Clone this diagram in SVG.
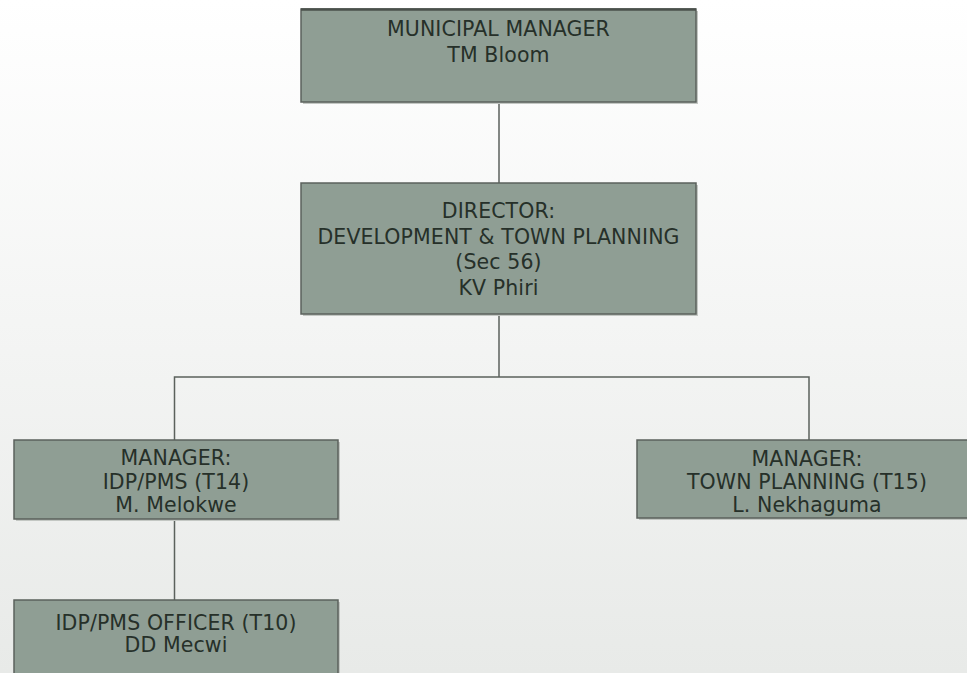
<svg xmlns="http://www.w3.org/2000/svg" width="967" height="673" viewBox="0 0 967 673">
<defs>
<linearGradient id="bg" x1="0" y1="0" x2="0" y2="1">
<stop offset="0" stop-color="#ffffff"/>
<stop offset="1" stop-color="#e8eae8"/>
</linearGradient>
</defs>
<style>
.box{fill:#8f9e94;stroke:#5b615c;stroke-width:1.5}
.shadow{fill:#c3c7c3}
.t{font-family:"DejaVu Sans",Verdana,sans-serif;font-size:20.5px;fill:#263029;text-anchor:middle;letter-spacing:0.1px}
.c{fill:none;stroke:#5b615c;stroke-width:1.5}
</style>
<rect x="0" y="0" width="967" height="673" fill="url(#bg)"/>
<g id="connectors">
<line class="c" x1="499" y1="102" x2="499" y2="183"/>
<line class="c" x1="499" y1="314" x2="499" y2="377"/>
<polyline class="c" points="174.5,440 174.5,377 809,377 809,440"/>
<line class="c" x1="174.5" y1="519" x2="174.5" y2="600"/>
</g>
<g id="municipal-manager">
<rect class="shadow" x="303" y="11" width="395" height="93"/>
<rect class="box" x="301" y="9" width="395" height="93"/>
<path d="M301,9.5 H696" stroke="#4a504b" stroke-width="2.5"/>
<text class="t" x="498.5" y="36">MUNICIPAL MANAGER</text>
<text class="t" x="498.5" y="62">TM Bloom</text>
</g>
<g id="director">
<rect class="shadow" x="303" y="185" width="395" height="131"/>
<rect class="box" x="301" y="183" width="395" height="131"/>
<text class="t" x="498.5" y="218">DIRECTOR:</text>
<text class="t" x="498.5" y="243.5">DEVELOPMENT &amp; TOWN PLANNING</text>
<text class="t" x="498.5" y="269">(Sec 56)</text>
<text class="t" x="498.5" y="294.5">KV Phiri</text>
</g>
<g id="manager-idp">
<rect class="shadow" x="16" y="442" width="324" height="79"/>
<rect class="box" x="14" y="440" width="324" height="79"/>
<text class="t" x="176" y="464.5">MANAGER:</text>
<text class="t" x="176" y="489">IDP/PMS (T14)</text>
<text class="t" x="176" y="511.5">M. Melokwe</text>
</g>
<g id="manager-town-planning">
<rect class="shadow" x="639" y="442" width="340" height="78"/>
<rect class="box" x="637" y="440" width="340" height="78"/>
<text class="t" x="807" y="465.5">MANAGER:</text>
<text class="t" x="807" y="489">TOWN PLANNING (T15)</text>
<text class="t" x="807" y="511.5">L. Nekhaguma</text>
</g>
<g id="idp-officer">
<rect class="shadow" x="16" y="602" width="324" height="80"/>
<rect class="box" x="14" y="600" width="324" height="80"/>
<text class="t" x="176" y="629.5">IDP/PMS OFFICER (T10)</text>
<text class="t" x="176" y="652">DD Mecwi</text>
</g>
</svg>
